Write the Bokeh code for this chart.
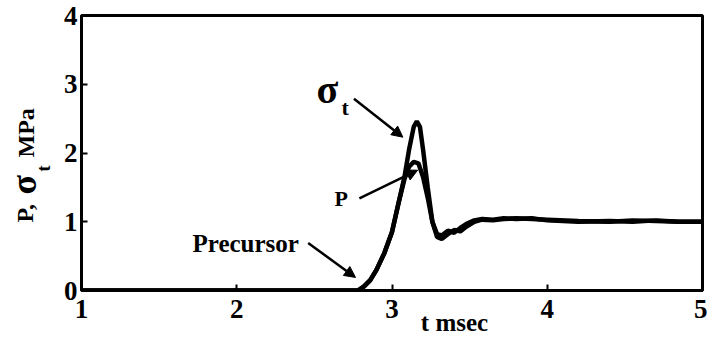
import numpy as np
from bokeh.plotting import figure
from bokeh.layouts import row
from bokeh.models import Label, Arrow, NormalHead, FixedTicker, Range1d
from bokeh.embed import file_html
from bokeh.resources import INLINE

# ---- data ----
t_sigma = [1.0, 2.0, 2.78, 2.82, 2.86, 2.90, 2.95, 3.00, 3.04, 3.08, 3.11, 3.14, 3.16,
           3.18, 3.20, 3.23, 3.26, 3.29, 3.32, 3.36, 3.40, 3.44, 3.48, 3.53, 3.58,
           3.65, 3.72, 3.80, 3.90, 4.00, 4.20, 4.40, 4.55, 4.70, 4.85, 5.00]
sigma_t = [0.0, 0.0, 0.0, 0.06, 0.15, 0.30, 0.54, 0.85, 1.25, 1.65, 2.05, 2.38, 2.46,
           2.38, 2.05, 1.50, 1.00, 0.78, 0.75, 0.82, 0.88, 0.86, 0.93, 1.00, 1.03,
           1.02, 1.04, 1.05, 1.04, 1.03, 1.01, 1.00, 1.02, 1.01, 1.00, 1.00]
t_p = [1.0, 2.0, 2.78, 2.82, 2.86, 2.90, 2.95, 3.00, 3.04, 3.08, 3.11, 3.14, 3.17,
       3.20, 3.23, 3.26, 3.29, 3.32, 3.36, 3.40, 3.44, 3.48, 3.53, 3.58,
       3.65, 3.72, 3.80, 3.90, 4.00, 4.20, 4.40, 4.55, 4.70, 4.85, 5.00]
p_vals = [0.0, 0.0, 0.0, 0.06, 0.15, 0.30, 0.54, 0.85, 1.25, 1.62, 1.80, 1.87, 1.85,
          1.65, 1.35, 1.00, 0.82, 0.80, 0.87, 0.84, 0.91, 0.97, 1.02, 1.04,
          1.03, 1.05, 1.04, 1.05, 1.02, 1.00, 1.01, 1.00, 1.02, 1.00, 1.00]
x_ticks = [1, 2, 3, 4, 5]
y_ticks = [0, 1, 2, 3, 4]
x_title = "t msec"
y_title_parts = ["P,", "σ", "t", "MPa"]

SERIF = "Liberation Serif"
NBSP = "\u00a0"
STRIP_W = 58

# ---- left strip holding the composed y-axis title ----
strip = figure(width=STRIP_W, height=338, output_backend="svg", toolbar_location=None,
               x_range=Range1d(0, STRIP_W), y_range=Range1d(48, 323),
               x_axis_type=None, y_axis_type=None,
               min_border_left=0, min_border_right=0, min_border_top=15, min_border_bottom=48)
strip.grid.visible = False
strip.outline_line_color = None
ang = np.pi / 2
for txt, xx, yy, sz in zip(y_title_parts, [24, 23, 43, 25], [116, 144, 167, 181],
                           ["24px", "36px", "18px", "24px"]):
    strip.add_layout(Label(x=xx, y=yy, text=txt, angle=ang, text_font=SERIF,
                           text_font_style="bold", text_font_size=sz, text_color="black",
                           text_align="left", text_baseline="middle"))

# ---- main plot ----
p = figure(width=707 - STRIP_W, height=338, output_backend="svg", toolbar_location=None,
           x_range=Range1d(1, 5), y_range=Range1d(0, 4),
           min_border_left=81 - STRIP_W, min_border_right=5, min_border_top=15,
           min_border_bottom=48)
p.grid.visible = False
p.background_fill_color = "white"
p.border_fill_color = "white"
p.outline_line_color = "black"
p.outline_line_width = 3

for ax, ticks in ((p.xaxis, x_ticks), (p.yaxis, y_ticks)):
    ax.ticker = FixedTicker(ticks=ticks)
    ax.axis_line_width = 3
    ax.axis_line_color = "black"
    ax.major_tick_in = 6
    ax.major_tick_out = 0
    ax.major_tick_line_width = 2
    ax.minor_tick_line_color = None
    ax.major_label_text_font = SERIF
    ax.major_label_text_font_style = "bold"
    ax.major_label_text_font_size = "27px"
    ax.major_label_text_color = "black"
p.xaxis.major_label_standoff = 9
p.yaxis.major_label_standoff = 4

p.xaxis.axis_label = NBSP * 20 + x_title
p.xaxis.axis_label_text_font = SERIF
p.xaxis.axis_label_text_font_style = "bold"
p.xaxis.axis_label_text_font_size = "25px"
p.xaxis.axis_label_text_color = "black"
p.xaxis.axis_label_standoff = -12

p.line(t_p, p_vals, line_color="black", line_width=4.5)
p.line(t_sigma, sigma_t, line_color="black", line_width=4.5)

def lab(x, y, text, size):
    p.add_layout(Label(x=x, y=y, text=text, text_font=SERIF, text_font_style="bold",
                       text_font_size=size, text_color="black",
                       text_align="left", text_baseline="middle"))

# annotations
lab(2.514, 2.93, "σ", "40px")
lab(2.675, 2.66, "t", "22px")
lab(2.63, 1.345, "P", "22px")
lab(1.715, 0.684, "Precursor", "25px")

arrows = [((2.755, 2.79), (3.07, 2.23)),
          ((2.79, 1.34), (3.165, 1.75)),
          ((2.46, 0.69), (2.765, 0.19))]
for (xs, ys), (xe, ye) in arrows:
    p.add_layout(Arrow(x_start=xs, y_start=ys, x_end=xe, y_end=ye, line_width=2.5,
                       line_color="black",
                       end=NormalHead(size=11, fill_color="black", line_color="black")))

layout = row(strip, p)
open("out.html", "w").write(file_html(layout, INLINE))
